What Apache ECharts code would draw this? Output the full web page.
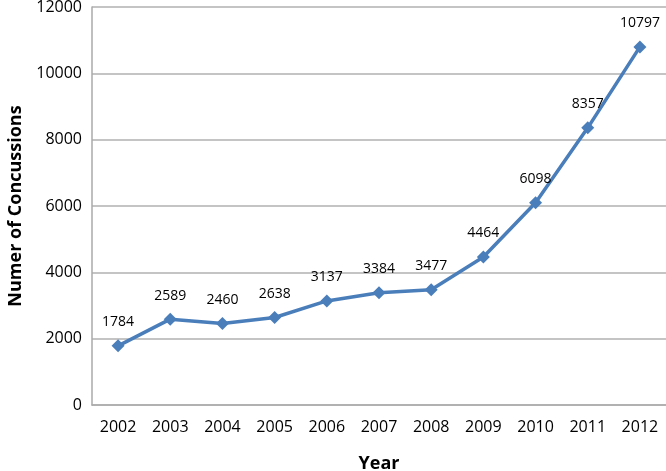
<!DOCTYPE html>
<html>
<head>
<meta charset="utf-8">
<script src="https://cdn.jsdelivr.net/npm/echarts@6/dist/echarts.min.js"></script>
<style>
  html, body { margin: 0; padding: 0; background: #fff; }
  #chart { width: 666px; height: 471px; }
</style>
</head>
<body>
<div id="chart"></div>
<script>
// data
var years = ["2002", "2003", "2004", "2005", "2006", "2007", "2008", "2009", "2010", "2011", "2012"];
var concussions = [1784, 2589, 2460, 2638, 3137, 3384, 3477, 4464, 6098, 8357, 10797];
var yTicks = [0, 2000, 4000, 6000, 8000, 10000, 12000];

var font = "Open Sans";
var myChart = echarts.init(document.getElementById("chart"));

var option = {
  animation: false,
  grid: { left: 92, right: 0, top: 7, bottom: 66, outerBoundsMode: "none" },
  xAxis: {
    type: "category",
    data: years,
    name: "Year",
    nameLocation: "middle",
    nameGap: 50,
    nameTextStyle: { fontFamily: font, fontSize: 18, fontWeight: "bold", color: "#000" },
    axisLine: { lineStyle: { color: "#aaaaaa", width: 1.5 } },
    axisTick: { show: false },
    axisLabel: { fontFamily: font, fontSize: 16, color: "#000", margin: 14 },
    splitLine: { show: false }
  },
  yAxis: {
    type: "value",
    min: yTicks[0],
    max: yTicks[yTicks.length - 1],
    interval: 2000,
    name: "Numer of Concussions",
    nameLocation: "middle",
    nameGap: 65,
    nameTextStyle: { fontFamily: font, fontSize: 18, fontWeight: "bold", color: "#000" },
    axisLine: { show: true, lineStyle: { color: "#aaaaaa", width: 1.5 } },
    axisTick: { show: false },
    axisLabel: {
      fontFamily: font, fontSize: 16, color: "#000", margin: 10,
      formatter: function (v) { return String(v); }
    },
    splitLine: { lineStyle: { color: "#b0b0b0", width: 1.5 } }
  },
  series: [
    {
      type: "line",
      data: concussions,
      symbol: "diamond",
      symbolSize: 13,
      lineStyle: { color: "#4a7ebb", width: 3.5 },
      itemStyle: { color: "#4a7ebb" },
      label: {
        show: true,
        position: "top",
        distance: 10,
        fontFamily: font,
        fontSize: 14,
        color: "#000"
      }
    }
  ]
};
option && myChart.setOption(option);
</script>
</body>
</html>
